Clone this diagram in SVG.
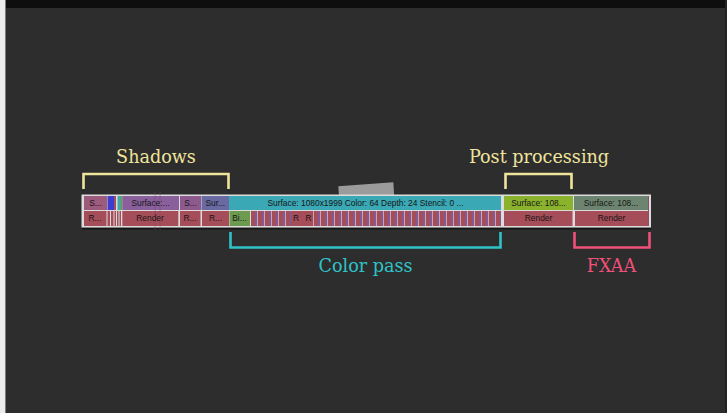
<svg xmlns="http://www.w3.org/2000/svg" width="727" height="413" viewBox="0 0 727 413">
  <defs>
    <style>
      .lbl { font-family: "Liberation Sans", Arial, sans-serif; font-size: 8.4px; fill: #161616; text-anchor: middle; }
      .title { font-family: "DejaVu Serif", "Liberation Serif", serif; font-size: 17.6px; text-anchor: middle; }
      .br { fill: none; stroke-width: 2.6; }
      .red { fill: #a64d5a; }
    </style>
    <pattern id="stripes" x="251" y="0" width="7" height="20" patternUnits="userSpaceOnUse">
      <rect x="0" y="0" width="7" height="20" fill="#a64d5a"/>
      <rect x="4.2" y="0" width="1.8" height="20" fill="#7b5c9c"/>
      <rect x="6.2" y="0" width="0.8" height="20" fill="#d9b7c4"/>
    </pattern>
  </defs>

  <!-- backdrop -->
  <rect x="0" y="0" width="727" height="413" fill="#2d2d2d"/>
  <rect x="0" y="0" width="727" height="8" fill="#0e0e0e"/>
  <rect x="0" y="0" width="5" height="413" fill="#ececec"/>
  <rect x="5" y="0" width="1" height="413" fill="#7a7a7a"/>
  <rect x="725" y="0" width="2" height="413" fill="#222222"/>

  <!-- tilted gray card behind the timeline -->
  <g id="card">
    <polygon points="338.3,186.2 393.3,182.2 394.2,196 339.2,200" fill="#9b9b9b"/>
  </g>

  <!-- timeline bar -->
  <g id="timeline">
    <rect x="81.5" y="194.5" width="569.5" height="33" fill="#dcdcdc"/>
    <rect x="82" y="228" width="569" height="1.5" fill="#161616"/>

    <!-- top row -->
    <rect x="84" y="196" width="23" height="14" fill="#9c5a7c"/>
    <rect x="107.5" y="196" width="6.5" height="14" fill="#3c3ccf"/>
    <rect x="114" y="196" width="2" height="14" fill="#a64d5a"/>
    <rect x="117.5" y="196" width="2.5" height="14" fill="#3aa9b0"/>
    <rect x="120" y="196" width="2.3" height="14" fill="#5fa06a"/>
    <rect x="122.3" y="196" width="56.7" height="14" fill="#8a609c"/>
    <rect x="180" y="196" width="21" height="14" fill="#8c5a8c"/>
    <rect x="201.5" y="196" width="27.5" height="14" fill="#6a6aa2"/>
    <rect x="229" y="196" width="272" height="14" fill="#3aa8b5"/>
    <rect x="504" y="196" width="69" height="14" fill="#8bb22c"/>
    <rect x="574" y="196" width="74" height="14" fill="#6d8570"/>
    <rect x="648" y="196" width="1" height="30" fill="#8a5070"/>

    <!-- bottom row -->
    <rect class="red" x="84" y="211" width="22.5" height="15"/>
    <rect class="red" x="107.5" y="211" width="2.5" height="15"/>
    <rect class="red" x="111" y="211" width="2.5" height="15"/>
    <rect class="red" x="114.5" y="211" width="1.5" height="15"/>
    <rect class="red" x="117" y="211" width="1.5" height="15"/>
    <rect class="red" x="119.5" y="211" width="1.5" height="15"/>
    <rect class="red" x="122.3" y="211" width="56" height="15"/>
    <rect class="red" x="180" y="211" width="20.5" height="15"/>
    <rect class="red" x="202" y="211" width="27" height="15"/>
    <rect x="229.5" y="211" width="20.5" height="15" fill="#6c9a4e"/>
    <rect x="251" y="211" width="250" height="15" fill="url(#stripes)"/>
    <rect class="red" x="291.5" y="211" width="8.5" height="15"/>
    <rect class="red" x="304" y="211" width="9" height="15"/>
    <rect class="red" x="504" y="211" width="68.5" height="15"/>
    <rect class="red" x="575" y="211" width="73" height="15"/>

    <!-- marker ticks -->
    <rect x="154.6" y="192" width="0.9" height="38" fill="#7b4a66" opacity="0.5"/>
    <rect x="159.6" y="192" width="0.9" height="38" fill="#7b4a66" opacity="0.5"/>

    <!-- labels -->
    <text class="lbl" x="95.5" y="206">S...</text>
    <text class="lbl" x="150.5" y="206">Surface:...</text>
    <text class="lbl" x="190.5" y="206">S...</text>
    <text class="lbl" x="215.3" y="206">Sur...</text>
    <text class="lbl" x="365.5" y="206">Surface: 1080x1999 Color: 64 Depth: 24 Stencil: 0 ...</text>
    <text class="lbl" x="538.5" y="206">Surface: 108...</text>
    <text class="lbl" x="611" y="206">Surface: 108...</text>
    <text class="lbl" x="95" y="221">R...</text>
    <text class="lbl" x="150" y="221">Render</text>
    <text class="lbl" x="190" y="221">R...</text>
    <text class="lbl" x="215.5" y="221">R...</text>
    <text class="lbl" x="239.5" y="221">Bi...</text>
    <text class="lbl" x="296" y="221">R</text>
    <text class="lbl" x="308.5" y="221">R</text>
    <text class="lbl" x="538.5" y="221">Render</text>
    <text class="lbl" x="611.5" y="221">Render</text>
  </g>

  <!-- section brackets -->
  <g id="connectors">
    <path class="br" stroke="#efe49c" d="M83.5,189 V174 H228.5 V189"/>
    <path class="br" stroke="#efe49c" d="M505.5,189 V174 H571.5 V189"/>
    <path class="br" stroke="#2fc3c8" d="M230.5,232 V247.5 H500.5 V232"/>
    <path class="br" stroke="#f0507a" d="M574.5,232 V247.5 H649.5 V232"/>
  </g>

  <g id="shadows">
    <text class="title" x="156" y="163" fill="#efe49c">Shadows</text>
  </g>
  <g id="post-processing">
    <text class="title" x="539" y="163" fill="#efe49c">Post processing</text>
  </g>
  <g id="color-pass">
    <text class="title" x="365.5" y="272" fill="#2fc3c8">Color pass</text>
  </g>
  <g id="fxaa">
    <text class="title" x="611.5" y="272" fill="#f0507a">FXAA</text>
  </g>
</svg>
